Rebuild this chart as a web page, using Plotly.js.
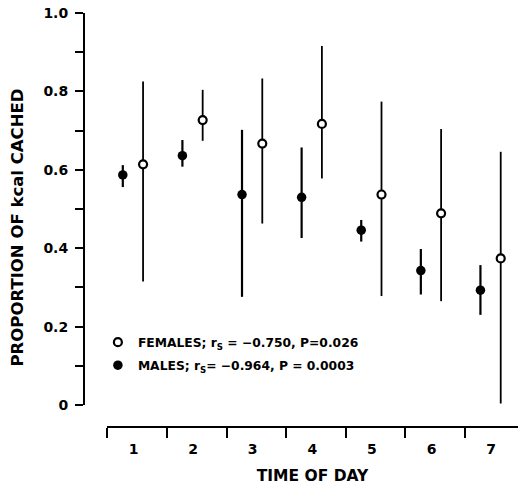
<!DOCTYPE html>
<html>
<head>
<meta charset="utf-8">
<script src="https://cdn.plot.ly/plotly-3.0.1.min.js"></script>
<style>
  html, body { margin: 0; padding: 0; background: #fff; }
  #chart { width: 518px; height: 485px; }
</style>
</head>
<body>
<div id="chart"></div>
<script>
// ---- data ----
const days = [1, 2, 3, 4, 5, 6, 7];
const dayLabels = ['1', '2', '3', '4', '5', '6', '7'];

const maleMean  = [0.587, 0.636, 0.537, 0.530, 0.446, 0.343, 0.293];
const maleUpper = [0.612, 0.676, 0.702, 0.657, 0.472, 0.398, 0.357];
const maleLower = [0.556, 0.608, 0.276, 0.426, 0.417, 0.282, 0.230];

const femaleMean  = [0.614, 0.727, 0.667, 0.717, 0.537, 0.489, 0.374];
const femaleUpper = [0.825, 0.804, 0.833, 0.916, 0.774, 0.704, 0.646];
const femaleLower = [0.315, 0.674, 0.463, 0.578, 0.278, 0.265, 0.004];

const yTickVals = [0, 0.2, 0.4, 0.6, 0.8, 1.0];
const yTickText = ['0', '0.2', '0.4', '0.6', '0.8', '1.0'];

const xTitle = 'TIME OF DAY';
const yTitle = 'PROPORTION OF kcal CACHED';
const femaleName = 'FEMALES; r<sub>S</sub> = \u22120.750, P=0.026';
const maleName   = 'MALES; r<sub>S</sub>= \u22120.964, P = 0.0003';

// ---- styling ----
const maleShift = -0.18, femaleShift = 0.16;
const FONT = 'DejaVu Sans, Arial, sans-serif';

const females = {
  type: 'scatter', mode: 'markers', name: femaleName, legendgroup: 'f',
  x: days.map(d => d + femaleShift), y: femaleMean,
  error_y: {
    type: 'data', symmetric: false,
    array: femaleUpper.map((u, i) => u - femaleMean[i]),
    arrayminus: femaleMean.map((m, i) => m - femaleLower[i]),
    width: 0, thickness: 1.8, color: '#000'
  },
  marker: { symbol: 'circle', size: 8, color: '#fff', line: { color: '#000', width: 2.2 } },
  hoverinfo: 'x+y'
};

const males = {
  type: 'scatter', mode: 'markers', name: maleName, legendgroup: 'm',
  x: days.map(d => d + maleShift), y: maleMean,
  error_y: {
    type: 'data', symmetric: false,
    array: maleUpper.map((u, i) => u - maleMean[i]),
    arrayminus: maleMean.map((m, i) => m - maleLower[i]),
    width: 0, thickness: 2.2, color: '#000'
  },
  marker: { symbol: 'circle', size: 9.5, color: '#000', line: { width: 0 } },
  hoverinfo: 'x+y'
};

const layout = {
  width: 518, height: 485,
  margin: { l: 84, r: 0, t: 13, b: 58, pad: 0 },
  paper_bgcolor: '#fff', plot_bgcolor: '#fff',
  font: { family: FONT, color: '#000', size: 13, weight: 700 },
  showlegend: true,
  legend: {
    x: 0.032, xanchor: 'left', y: 0.24, yanchor: 'top',
    traceorder: 'grouped', tracegroupgap: 4,
    bgcolor: 'rgba(0,0,0,0)', borderwidth: 0,
    font: { family: FONT, size: 12.3, color: '#000', weight: 700 }
  },
  xaxis: {
    domain: [0.053, 1], anchor: 'free', position: 0,
    range: [0.555, 7.45], showgrid: false, zeroline: false,
    showline: true, linecolor: '#000', linewidth: 2,
    tickmode: 'array', tickvals: days, ticktext: dayLabels,
    ticks: 'outside', ticklen: 9, tickcolor: 'rgba(0,0,0,0)',
    tickfont: { family: FONT, size: 14, weight: 700 },
    minor: { tick0: 0.56, dtick: 1, ticks: 'outside', ticklen: 10, tickwidth: 2, tickcolor: '#000', showgrid: false },
    title: { text: xTitle, font: { family: FONT, size: 15.5, weight: 700 }, standoff: 15 }
  },
  yaxis: {
    domain: [0.053, 1], anchor: 'free', position: 0,
    range: [0, 1.0], showgrid: false, zeroline: false,
    showline: true, linecolor: '#000', linewidth: 2,
    tickmode: 'array', tickvals: yTickVals, ticktext: yTickText,
    ticks: 'outside', ticklen: 8, tickwidth: 2, tickcolor: '#000',
    ticklabelstandoff: 4,
    tickfont: { family: FONT, size: 14, weight: 700 },
    minor: { dtick: 0.1, tick0: 0, ticks: 'outside', ticklen: 8, tickwidth: 2, tickcolor: '#000', showgrid: false }
  },
  annotations: [{
    text: yTitle, textangle: -90, showarrow: false,
    xref: 'paper', yref: 'paper',
    x: (16.5 - 84) / 434, y: (427 - 228) / 414,
    xanchor: 'center', yanchor: 'middle',
    font: { family: FONT, size: 16.5, weight: 700, color: '#000' }
  }]
};

Plotly.newPlot('chart', [females, males], layout, { displayModeBar: false, staticPlot: true });
</script>
</body>
</html>
